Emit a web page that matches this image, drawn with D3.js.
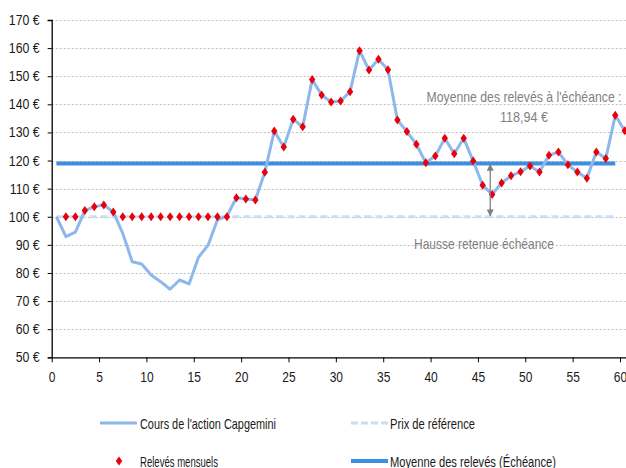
<!DOCTYPE html>
<html>
<head>
<meta charset="utf-8">
<script src="https://cdn.jsdelivr.net/npm/d3@7"></script>
<style>
    body { margin: 0; background: #fff; }
    text { font-family: "Liberation Sans", Arial, sans-serif; }
</style>
</head>
<body>
<div id="chart"></div>
<script>
// monthly stock price (t = 0 .. 60)
var cours = [100, 92.9, 94.5, 102.2, 103.6, 104.2, 101.7, 94.1, 84.0, 83.2,
    79.3, 76.9, 74.2, 77.5, 76.1, 85.6, 89.8, 98.9, 100.2, 106.8,
    106.3, 106.0, 115.8, 130.5, 124.8, 134.7, 132.0, 148.8, 143.3, 140.8,
    141.2, 144.5, 159.1, 152.2, 156.0, 152.3, 134.4, 130.3, 125.8, 119.2,
    121.6, 127.9, 122.4, 127.9, 119.8, 111.2, 107.9, 112.0, 114.6, 116.0,
    118.1, 115.9, 121.9, 123.0, 118.5, 115.9, 113.7, 123.0, 120.7, 136.1,
    130.6];

// monthly observations (t = 1 .. 60), floored at reference price
var releves = [100, 100, 102.2, 103.6, 104.2, 101.7, 100, 100, 100, 100,
    100, 100, 100, 100, 100, 100, 100, 100, 106.8, 106.3,
    106.0, 115.8, 130.5, 124.8, 134.7, 132.0, 148.8, 143.3, 140.8, 141.2,
    144.5, 159.1, 152.2, 156.0, 152.3, 134.4, 130.3, 125.8, 119.2, 121.6,
    127.9, 122.4, 127.9, 119.8, 111.2, 107.9, 112.0, 114.6, 116.0, 118.1,
    115.9, 121.9, 123.0, 118.5, 115.9, 113.7, 123.0, 120.7, 136.1, 130.6];

var prixReference = 100;
var moyenne = 118.94;
var refSpan = [0, 59];

var yTicks = [50, 60, 70, 80, 90, 100, 110, 120, 130, 140, 150, 160, 170];
var xTicks = [0, 5, 10, 15, 20, 25, 30, 35, 40, 45, 50, 55, 60];

var legendItems = [
    { label: "Cours de l'action Capgemini", type: 'cours' },
    { label: 'Prix de référence', type: 'ref' },
    { label: 'Relevés mensuels', type: 'releve' },
    { label: 'Moyenne des relevés (Échéance)', type: 'moyenne' }
];

// the source uses a narrow font, squeeze the glyphs to the widths seen
var legendWidths = [136, 85, 78, 166];

function buildChart(containerId) {
    var width = 626;
    var height = 468;

    var colCours = '#8db8ec';
    var colRef = '#c9def3';
    var colMoy = '#3c8fe0';
    var colRed = '#e8000c';
    var colGrey = '#7f7f7f';

    var svg = d3
        .select(containerId)
        .append('svg')
        .attr('width', width)
        .attr('height', height);

    var x = d3.scaleLinear().domain([0, 60]).range([51.7, 620]);
    var y = d3.scaleLinear().domain([50, 170]).range([357.3, 20]);

    // points sit half a step right of the tick
    var px = function (t) { return x(t + 0.5); };

    function squeeze(sel, ratio) {
        sel.each(function () {
            var w = this.getComputedTextLength();
            d3.select(this)
                .attr('textLength', w * ratio)
                .attr('lengthAdjust', 'spacingAndGlyphs');
        });
    }

    function fit(sel, w) {
        sel.attr('textLength', w).attr('lengthAdjust', 'spacingAndGlyphs');
    }

    // gridlines
    svg.append('g')
        .selectAll('line')
        .data(yTicks.filter(function (d) { return d > 50; }))
        .enter()
        .append('line')
        .attr('x1', x(0))
        .attr('x2', width)
        .attr('y1', function (d) { return Math.round(y(d)) + 0.5; })
        .attr('y2', function (d) { return Math.round(y(d)) + 0.5; })
        .style('stroke', '#bdbdbd')
        .style('stroke-width', 1)
        .style('stroke-dasharray', '2,2');

    // y axis
    var yAxis = d3.axisLeft(y)
        .tickValues(yTicks)
        .tickSize(4)
        .tickPadding(8)
        .tickFormat(function (d) { return d + ' €'; });

    var gy = svg.append('g')
        .attr('transform', 'translate(' + x(0) + ',0)')
        .call(yAxis);

    // x axis
    var xAxis = d3.axisBottom(x)
        .tickValues(xTicks)
        .tickSize(5)
        .tickPadding(9);

    var gx = svg.append('g')
        .attr('transform', 'translate(0,' + y(50) + ')')
        .call(xAxis);
    gx.select('.domain').attr('d', 'M' + x(0) + ',0.5H' + width);

    [gx, gy].forEach(function (g) {
        g.select('.domain').style('stroke', '#000').style('stroke-width', 1.3);
        g.selectAll('.tick line').style('stroke', '#000');
        g.selectAll('.tick text')
            .style('fill', '#1a1a1a')
            .style('font-family', '"Liberation Sans", Arial, sans-serif');
    });
    gy.selectAll('.tick text').style('font-size', '14px').call(squeeze, 0.88);
    gx.selectAll('.tick text').style('font-size', '15px').call(squeeze, 0.8);

    // reference price line
    svg.append('line')
        .attr('x1', px(refSpan[0]))
        .attr('x2', px(refSpan[1]))
        .attr('y1', y(prixReference))
        .attr('y2', y(prixReference))
        .style('stroke', colRef)
        .style('stroke-width', 3)
        .style('stroke-dasharray', '7,4');

    // average line
    svg.append('line')
        .attr('x1', px(refSpan[0]))
        .attr('x2', px(refSpan[1]))
        .attr('y1', y(moyenne))
        .attr('y2', y(moyenne))
        .style('stroke', colMoy)
        .style('stroke-width', 4);

    // stock price line
    var line = d3.line()
        .x(function (d, i) { return px(i); })
        .y(function (d) { return y(d); });

    svg.append('path')
        .datum(cours)
        .attr('d', line)
        .style('fill', 'none')
        .style('stroke', colCours)
        .style('stroke-width', 3)
        .style('stroke-linejoin', 'round');

    // monthly observations
    var diamond = 'M0,-4.5L3.2,0L0,4.5L-3.2,0Z';
    svg.append('g')
        .selectAll('path')
        .data(releves)
        .enter()
        .append('path')
        .attr('d', diamond)
        .attr('transform', function (d, i) {
            return 'translate(' + px(i + 1) + ',' + y(d) + ')';
        })
        .style('fill', colRed);

    // double arrow between average and reference
    var defs = svg.append('defs');
    defs.append('marker')
        .attr('id', 'arrow')
        .attr('viewBox', '0 0 10 10')
        .attr('refX', 9)
        .attr('refY', 5)
        .attr('markerWidth', 7)
        .attr('markerHeight', 7)
        .attr('markerUnits', 'userSpaceOnUse')
        .attr('orient', 'auto-start-reverse')
        .append('path')
        .attr('d', 'M0,0L10,5L0,10Z')
        .style('fill', colGrey);

    var arrowX = px(45.8);
    svg.append('line')
        .attr('x1', arrowX)
        .attr('x2', arrowX)
        .attr('y1', y(moyenne) + 1)
        .attr('y2', y(prixReference) - 1)
        .style('stroke', colGrey)
        .style('stroke-width', 1.3)
        .attr('marker-start', 'url(#arrow)')
        .attr('marker-end', 'url(#arrow)');

    // annotations
    svg.append('text')
        .attr('x', 524)
        .attr('y', 102)
        .attr('text-anchor', 'middle')
        .style('font-size', '15px')
        .style('fill', colGrey)
        .text('Moyenne des relevés à l\'échéance :')
        .call(fit, 195);

    svg.append('text')
        .attr('x', 524)
        .attr('y', 121.5)
        .attr('text-anchor', 'middle')
        .style('font-size', '15px')
        .style('fill', colGrey)
        .text(d3.format('.2f')(moyenne).replace('.', ',') + ' €')
        .call(fit, 48);

    svg.append('text')
        .attr('x', 414)
        .attr('y', 248.5)
        .style('font-size', '15px')
        .style('fill', colGrey)
        .text('Hausse retenue échéance')
        .call(fit, 140);

    // legend
    var legend = svg.append('g');
    var item = legend.selectAll('g')
        .data(legendItems)
        .enter()
        .append('g')
        .attr('transform', function (d, i) {
            return 'translate(' + (i % 2 === 0 ? 100 : 351) + ',' + (i < 2 ? 423 : 461) + ')';
        });

    item.each(function (d, i) {
        var g = d3.select(this);
        if (d.type === 'releve') {
            g.append('path')
                .attr('d', diamond)
                .attr('transform', 'translate(19,0)')
                .style('fill', colRed);
        } else {
            g.append('line')
                .attr('x1', 0)
                .attr('x2', 37)
                .style('stroke', d.type === 'cours' ? colCours : d.type === 'ref' ? colRef : colMoy)
                .style('stroke-width', d.type === 'moyenne' ? 4 : 3)
                .style('stroke-dasharray', d.type === 'ref' ? '7,3' : null);
        }
        g.append('text')
            .attr('x', d.type === 'cours' || d.type === 'releve' ? 40 : 39)
            .attr('y', 5.5)
            .style('font-size', '15px')
            .style('fill', '#1a1a1a')
            .text(d.label)
            .call(fit, legendWidths[i]);
    });
}

buildChart('#chart');
</script>
</body>
</html>
